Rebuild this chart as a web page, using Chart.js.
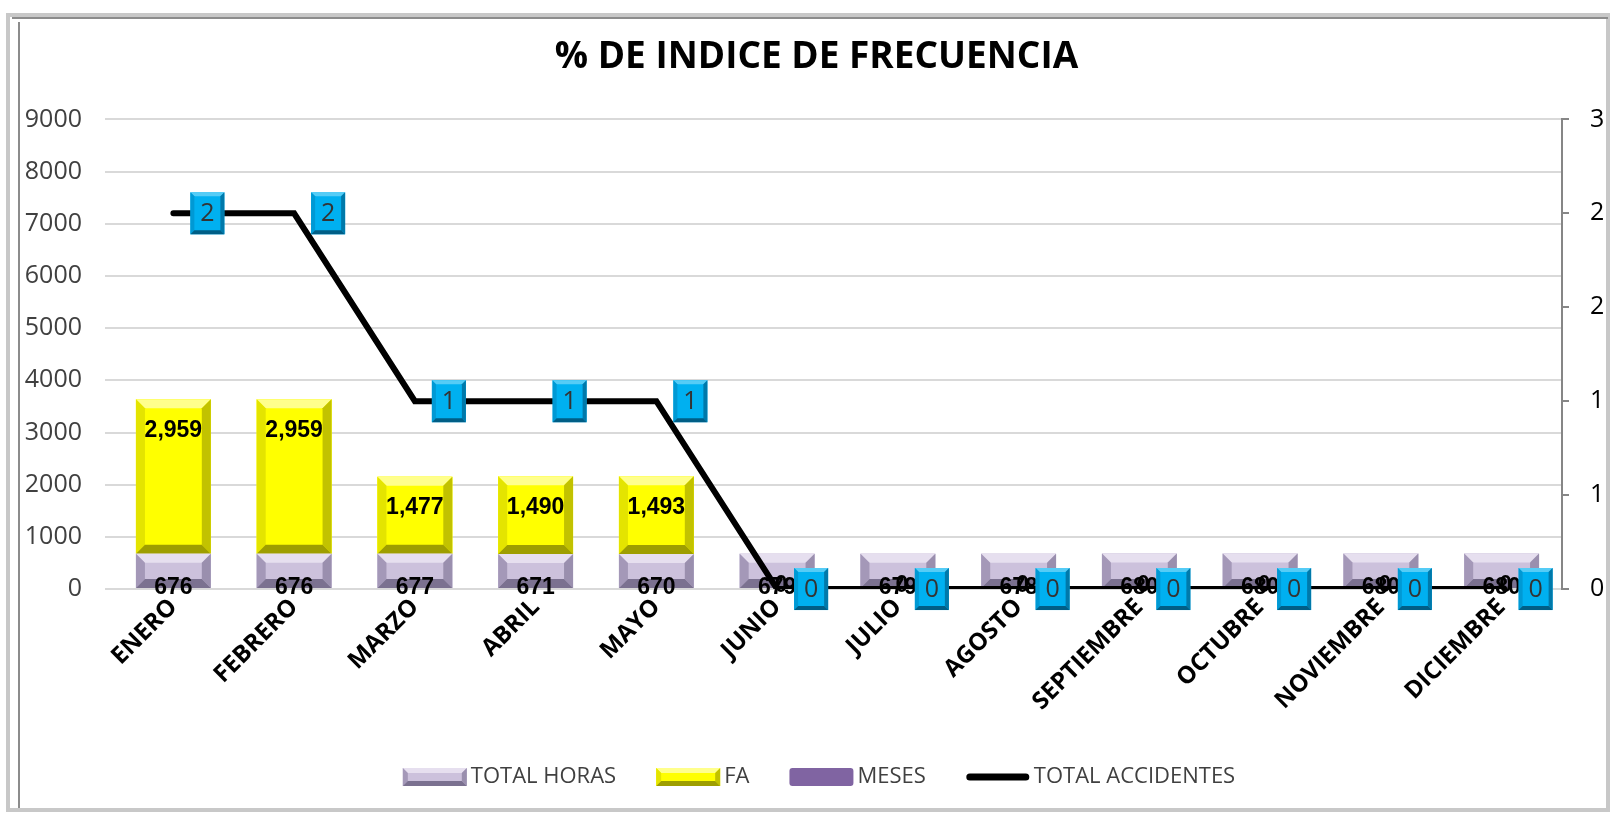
<!DOCTYPE html>
<html>
<head>
<meta charset="utf-8">
<title>% DE INDICE DE FRECUENCIA</title>
<script src="https://cdn.jsdelivr.net/npm/chart.js@4.4.1/dist/chart.umd.min.js"></script>
<style>
    html, body { margin: 0; padding: 0; background: #fff; }
    #wrap { width: 1612px; height: 814px; }
</style>
</head>
<body>
<div id="wrap"><canvas id="frecChart" width="1612" height="814"></canvas></div>
<script>
// Data
const months = ['ENERO', 'FEBRERO', 'MARZO', 'ABRIL', 'MAYO', 'JUNIO', 'JULIO', 'AGOSTO', 'SEPTIEMBRE', 'OCTUBRE', 'NOVIEMBRE', 'DICIEMBRE'];
const totalHoras = [676, 676, 677, 671, 670, 679, 679, 678, 680, 680, 680, 680];
const fa = [2959, 2959, 1477, 1490, 1493, 0, 0, 0, 0, 0, 0, 0];
const meses = [0, 0, 0, 0, 0, 0, 0, 0, 0, 0, 0, 0];
const totalAccidentes = [2, 2, 1, 1, 1, 0, 0, 0, 0, 0, 0, 0];

const FONT = "'Open Sans', 'DejaVu Sans', sans-serif";
const LABEL_FONT = "'Liberation Sans', Arial, sans-serif";

// Bevel colours
const horasBevel = { face: '#CCC1DC', top: '#E6DFEF', left: '#A498B8', right: '#9A8FAE', bottom: '#7B7190' };
const faBevel = { face: '#FFFF00', top: '#FFFF8C', left: '#E4E400', right: '#C2C200', bottom: '#9E9E00' };
const boxBevel = { face: '#00B0F0', top: '#55CCF6', left: '#0099D4', right: '#0079AA', bottom: '#005E86' };

function poly(ctx, pts, color) {
    ctx.beginPath();
    ctx.moveTo(pts[0][0], pts[0][1]);
    for (let i = 1; i < pts.length; i++) ctx.lineTo(pts[i][0], pts[i][1]);
    ctx.closePath();
    ctx.fillStyle = color;
    ctx.fill();
}

function bevelRect(ctx, x0, y0, x1, y1, c, b) {
    if (y1 - y0 < 1) return;
    const bb = Math.min(b, (x1 - x0) / 2, (y1 - y0) / 2);
    ctx.fillStyle = c.face;
    ctx.fillRect(x0, y0, x1 - x0, y1 - y0);
    poly(ctx, [[x0, y0], [x1, y0], [x1 - bb, y0 + bb], [x0 + bb, y0 + bb]], c.top);
    poly(ctx, [[x0, y0], [x0 + bb, y0 + bb], [x0 + bb, y1 - bb], [x0, y1]], c.left);
    poly(ctx, [[x1, y0], [x1, y1], [x1 - bb, y1 - bb], [x1 - bb, y0 + bb]], c.right);
    poly(ctx, [[x0, y1], [x0 + bb, y1 - bb], [x1 - bb, y1 - bb], [x1, y1]], c.bottom);
}

// Frame round the chart area (Excel style border)
const framePlugin = {
    id: 'frame',
    beforeDraw(chart) {
        const ctx = chart.ctx;
        ctx.save();
        ctx.fillStyle = '#fff';
        ctx.fillRect(0, 0, chart.width, chart.height);
        ctx.strokeStyle = '#C8C8C8';
        ctx.lineWidth = 4;
        ctx.strokeRect(8, 15, chart.width - 12, chart.height - 19);
        ctx.strokeStyle = '#8C8C8C';
        ctx.lineWidth = 2;
        ctx.beginPath();
        ctx.moveTo(19, 22); ctx.lineTo(19, chart.height - 6);
        ctx.moveTo(12, 18); ctx.lineTo(chart.width - 4, 18);
        ctx.stroke();
        ctx.restore();
    }
};

// Bevel effect on bars
const bevelPlugin = {
    id: 'bevel',
    afterDatasetDraw(chart, args) {
        const idx = args.index;
        let cols = null;
        if (idx === 1) cols = horasBevel;
        if (idx === 2) cols = faBevel;
        if (!cols) return;
        const ctx = chart.ctx;
        ctx.save();
        args.meta.data.forEach(el => {
            const p = el.getProps(['x', 'y', 'base', 'width'], true);
            bevelRect(ctx, p.x - p.width / 2, Math.min(p.y, p.base), p.x + p.width / 2, Math.max(p.y, p.base), cols, 9);
        });
        ctx.restore();
    }
};

// Data labels
const labelsPlugin = {
    id: 'valueLabels',
    afterDatasetsDraw(chart) {
        const ctx = chart.ctx;
        const zeroY = chart.scales.y.getPixelForValue(0);
        ctx.save();
        ctx.textAlign = 'center';
        ctx.textBaseline = 'middle';
        ctx.font = 'bold 23px ' + LABEL_FONT;
        ctx.fillStyle = '#000';

        chart.getDatasetMeta(1).data.forEach((el, i) => {
            ctx.fillText(totalHoras[i].toLocaleString('en-US'), el.x, zeroY - 1);
        });
        chart.getDatasetMeta(2).data.forEach((el, i) => {
            const v = fa[i];
            const y = v > 0 ? el.y + 31 : zeroY - 3;
            ctx.fillText(v.toLocaleString('en-US'), el.x + (v > 0 ? 0 : 4), y);
        });

        // blue boxes on the accidents line
        ctx.font = '25px ' + FONT;
        chart.getDatasetMeta(0).data.forEach((el, i) => {
            const cx = el.x + 34, cy = el.y;
            bevelRect(ctx, cx - 17, cy - 21, cx + 17, cy + 21, boxBevel, 4);
            ctx.fillStyle = '#333';
            ctx.fillText(String(totalAccidentes[i]), cx, cy + 1);
        });
        ctx.restore();
    }
};

// Legend drawn by hand
const legendItems = [
    { text: 'TOTAL HORAS', kind: 'bevel', cols: horasBevel },
    { text: 'FA', kind: 'bevel', cols: faBevel },
    { text: 'MESES', kind: 'flat', color: '#8064A2' },
    { text: 'TOTAL ACCIDENTES', kind: 'line', color: '#000' }
];
const legendPlugin = {
    id: 'customLegend',
    afterDraw(chart) {
        const ctx = chart.ctx;
        const boxW = 64, boxH = 18, gapText = 4, gapItem = 40, cy = 777;
        ctx.save();
        ctx.font = '22px ' + FONT;
        ctx.textBaseline = 'middle';
        ctx.textAlign = 'left';
        let total = 0;
        legendItems.forEach((it, i) => {
            total += boxW + gapText + ctx.measureText(it.text).width + (i < legendItems.length - 1 ? gapItem : 0);
        });
        let x = 819 - total / 2;
        legendItems.forEach(it => {
            if (it.kind === 'bevel') {
                bevelRect(ctx, x, cy - boxH / 2, x + boxW, cy + boxH / 2, it.cols, 5);
            } else if (it.kind === 'flat') {
                ctx.fillStyle = it.color;
                ctx.beginPath();
                ctx.roundRect(x, cy - boxH / 2, boxW, boxH, 3);
                ctx.fill();
            } else {
                ctx.strokeStyle = it.color;
                ctx.lineWidth = 7;
                ctx.lineCap = 'round';
                ctx.beginPath();
                ctx.moveTo(x + 4, cy);
                ctx.lineTo(x + boxW - 4, cy);
                ctx.stroke();
            }
            ctx.fillStyle = '#404040';
            ctx.fillText(it.text, x + boxW + gapText, cy);
            x += boxW + gapText + ctx.measureText(it.text).width + gapItem;
        });
        ctx.restore();
    }
};

const ctx = document.getElementById('frecChart');
const frecChart = new Chart(ctx, {
    type: 'bar',
    data: {
        labels: months,
        datasets: [
            {
                type: 'line',
                label: 'TOTAL ACCIDENTES',
                data: totalAccidentes,
                yAxisID: 'y1',
                borderColor: '#000',
                borderWidth: 6,
                pointRadius: 0,
                tension: 0,
                borderCapStyle: 'round',
                order: 0
            },
            {
                label: 'TOTAL HORAS',
                data: totalHoras,
                backgroundColor: horasBevel.face,
                stack: 's',
                yAxisID: 'y',
                order: 1
            },
            {
                label: 'FA',
                data: fa,
                backgroundColor: faBevel.face,
                stack: 's',
                yAxisID: 'y',
                order: 1
            },
            {
                label: 'MESES',
                data: meses,
                backgroundColor: '#8064A2',
                stack: 's',
                yAxisID: 'y',
                order: 1
            }
        ]
    },
    options: {
        responsive: false,
        animation: false,
        devicePixelRatio: 1,
        layout: {
            padding: { left: 21, right: 0, top: 22, bottom: 94 }
        },
        datasets: {
            bar: { barPercentage: 0.62, categoryPercentage: 1 }
        },
        plugins: {
            legend: { display: false },
            tooltip: { enabled: false },
            title: {
                display: true,
                text: '% DE INDICE DE FRECUENCIA',
                color: '#000',
                font: { family: FONT, size: 37, weight: 'bold' },
                padding: { top: 13, bottom: 40 }
            }
        },
        scales: {
            x: {
                stacked: true,
                grid: { display: false, drawTicks: false },
                border: { display: false },
                ticks: {
                    color: '#000',
                    font: { family: FONT, size: 24, weight: 'bold' },
                    minRotation: 45,
                    maxRotation: 45,
                    padding: 4
                }
            },
            y: {
                stacked: true,
                min: 0,
                max: 9000,
                border: { display: false },
                grid: { color: '#D9D9D9', lineWidth: 2, tickLength: 8 },
                afterFit: s => { s.width = 92; },
                ticks: {
                    stepSize: 1000,
                    color: '#404040',
                    font: { family: FONT, size: 25 },
                    padding: 23,
                    callback: v => String(v)
                }
            },
            y1: {
                position: 'right',
                min: 0,
                max: 2.5,
                border: { display: true, color: '#868686', width: 2 },
                grid: { drawOnChartArea: false, color: '#868686', lineWidth: 2, tickLength: 7 },
                afterFit: s => { s.width = 50; },
                ticks: {
                    stepSize: 0.5,
                    color: '#000',
                    font: { family: FONT, size: 25 },
                    padding: 21,
                    callback: v => String(Math.round(v))
                }
            }
        }
    },
    plugins: [framePlugin, bevelPlugin, labelsPlugin, legendPlugin]
});
</script>
</body>
</html>
